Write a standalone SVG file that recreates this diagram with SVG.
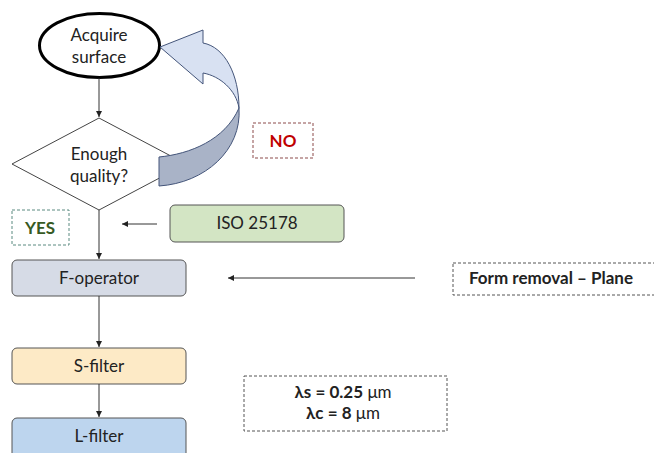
<svg xmlns="http://www.w3.org/2000/svg" width="654" height="453" viewBox="0 0 654 453">
<defs>
<marker id="ah" markerWidth="8" markerHeight="8" refX="6" refY="3" orient="auto" markerUnits="userSpaceOnUse">
<path d="M0,0 L6,3 L0,6 Z" fill="#222"/>
</marker>
<style>
.t{font-family:Lato,"Open Sans","Liberation Sans",sans-serif;font-size:17px;fill:#222;text-anchor:middle}
.b{font-weight:bold}
.box{stroke:#555;stroke-width:1}
.ln{stroke:#333;stroke-width:1;fill:none;marker-end:url(#ah)}
.dash{fill:none;stroke-width:1;stroke-dasharray:3 2}
</style>
</defs>
<rect width="654" height="453" fill="#fff"/>
<g id="acquire">
<ellipse cx="99.5" cy="45.5" rx="60" ry="32" fill="#fff" stroke="#000" stroke-width="3"/>
<text class="t" x="99" y="41">Acquire</text>
<text class="t" x="99" y="63">surface</text>
</g>
<g id="quality">
<polygon points="99,118 186,164 99,210 12,164" fill="#fff" stroke="#444" stroke-width="1"/>
<text class="t" x="99" y="160">Enough</text>
<text class="t" x="99" y="182">quality?</text>
</g>
<g id="loop-arrow">
<path d="M159,157 C190,154 225,140 239,108 C242,150 205,183 159,186 Z" fill="#a9b3c7" stroke="#44557a" stroke-width="1"/>
<path d="M239,108 C239,75 225,47 203,43 L203,30 L160,47 L203,84 L203,73 C220,76 236,90 239,108 Z" fill="#d8e1f2" stroke="#44557a" stroke-width="1"/>
</g>
<g id="no">
<rect class="dash" x="253" y="123" width="60" height="35" stroke="#8c4a4a"/>
<text class="t b" x="283" y="147" fill="#c00000" style="fill:#c00000">NO</text>
</g>
<g id="yes">
<rect class="dash" x="12" y="210" width="57" height="35" stroke="#5a8a80"/>
<text class="t b" x="40" y="234" style="fill:#375a23">YES</text>
</g>
<g id="iso">
<rect class="box" x="170" y="205" width="174" height="37" rx="5" fill="#d3e5c4"/>
<text class="t" x="257" y="229">ISO 25178</text>
</g>
<g id="f-operator">
<rect class="box" x="12" y="260" width="174" height="36" rx="5" fill="#d6dbe6"/>
<text class="t" x="99" y="284">F-operator</text>
</g>
<g id="s-filter">
<rect class="box" x="12" y="348" width="174" height="36" rx="5" fill="#fdeac6"/>
<text class="t" x="99" y="372">S-filter</text>
</g>
<g id="l-filter">
<rect class="box" x="12" y="418" width="174" height="40" rx="5" fill="#bdd5ee"/>
<text class="t" x="99" y="442">L-filter</text>
</g>
<g id="form-removal">
<rect class="dash" x="453" y="263" width="210" height="32" stroke="#555"/>
<text class="t b" x="469" y="284" style="text-anchor:start">Form removal – Plane</text>
</g>
<g id="lambda">
<rect class="dash" x="244" y="376" width="203" height="55" stroke="#555"/>
<text class="t" x="343" y="398"><tspan class="b">λs = 0.25</tspan> μm</text>
<text class="t" x="343" y="419"><tspan class="b">λc = 8</tspan> μm</text>
</g>
<g id="connectors">
<line class="ln" x1="99" y1="78" x2="99" y2="117"/>
<line class="ln" x1="99" y1="210" x2="99" y2="259"/>
<line class="ln" x1="99" y1="296" x2="99" y2="347"/>
<line class="ln" x1="99" y1="384" x2="99" y2="417"/>
<line class="ln" x1="157" y1="224" x2="122" y2="224"/>
<line class="ln" x1="415" y1="278" x2="228" y2="278"/>
</g>
</svg>
